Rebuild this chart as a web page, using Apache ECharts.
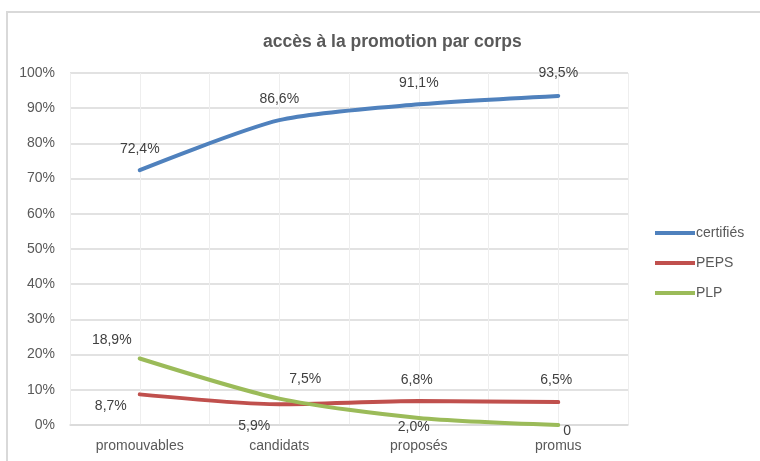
<!DOCTYPE html>
<html>
<head>
<meta charset="utf-8">
<script src="https://cdn.jsdelivr.net/npm/echarts@6/dist/echarts.min.js"></script>
<style>
  html, body { margin: 0; padding: 0; background: #fff; }
  #frame {
    position: absolute; left: 6px; top: 11px; right: -4px; bottom: -4px;
    border: 2px solid #d9d9d9;
  }
  #chart { width: 760px; height: 461px; position: absolute; left: 0; top: 0; }
</style>
</head>
<body>
<div id="frame"></div>
<div id="chart"></div>
<script>
// Categories and values (percent)
const categories = ['promouvables', 'candidats', 'proposés', 'promus'];
const certifies = [72.4, 86.6, 91.1, 93.5];
const peps = [8.7, 5.9, 6.8, 6.5];
const plp = [18.9, 7.5, 2.0, 0];

const yTicks = [0, 10, 20, 30, 40, 50, 60, 70, 80, 90, 100];

// Label placement per point: [position, distance, offsetX, offsetY]
const certLabels = [['top', 14, 0, 0], ['top', 14, 0, 0], ['top', 14, 0, 0], ['top', 16, 0, 0]];
const pepsLabels = [['left', 13, 0, 12], ['bottom', 15, -25, 0], ['top', 14, -2, 0], ['top', 15, -2, 0]];
const plpLabels = [['top', 11, -28, 0], ['top', 12, 26, 0], ['bottom', 2, -5, 0], ['bottom', 0, 9, -1]];

const fmt = v => (v === 0 ? '0' : v.toFixed(1).replace('.', ',') + '%');

function build(values, places) {
  return values.map((v, i) => ({
    value: v,
    label: {
      position: places[i][0],
      distance: places[i][1],
      offset: [places[i][2], places[i][3]]
    }
  }));
}

const chart = echarts.init(document.getElementById('chart'), null, { renderer: 'canvas' });

const labelStyle = {
  show: true,
  color: '#404040',
  fontSize: 14,
  fontFamily: 'Liberation Sans',
  formatter: p => fmt(p.value)
};

const lineSeries = (name, values, places, color) => ({
  name: name,
  type: 'line',
  data: build(values, places),
  smooth: 0.25,
  symbol: 'circle',
  symbolSize: 0,
  showSymbol: true,
  lineStyle: { color: color, width: 4, cap: 'round' },
  itemStyle: { color: color },
  label: labelStyle
});

chart.setOption({
  animation: false,
  textStyle: { fontFamily: 'Liberation Sans' },
  title: {
    text: 'accès à la promotion par corps',
    left: 258,
    top: 28,
    textStyle: { fontSize: 17.5, fontWeight: 'bold', color: '#595959', fontFamily: 'Liberation Sans' }
  },
  legend: {
    orient: 'vertical',
    left: 650,
    top: 221,
    itemWidth: 40,
    itemHeight: 4,
    itemGap: 16,
    icon: 'rect',
    textStyle: { fontSize: 14, color: '#595959', padding: [0, 0, 0, -4] },
    data: ['certifiés', 'PEPS', 'PLP']
  },
  grid: { left: 70, right: 132, top: 73, bottom: 36 },
  xAxis: [
    {
      type: 'category',
      data: categories,
      boundaryGap: true,
      axisLine: { lineStyle: { color: '#d9d9d9', width: 1.5 } },
      axisTick: { show: false },
      splitLine: { show: false },
      axisLabel: { color: '#595959', fontSize: 14, margin: 14 }
    },
    {
      type: 'category',
      data: ['', '', '', '', '', '', '', ''],
      boundaryGap: true,
      position: 'bottom',
      axisLine: { show: false },
      axisTick: { show: false },
      axisLabel: { show: false },
      splitLine: { show: true, lineStyle: { color: '#eeeeee', width: 1 } }
    }
  ],
  yAxis: {
    type: 'value',
    min: yTicks[0],
    max: yTicks[yTicks.length - 1],
    interval: 10,
    axisLine: { show: false },
    axisTick: { show: false },
    axisLabel: { color: '#595959', fontSize: 14, margin: 15, formatter: v => v + '%' },
    splitLine: { lineStyle: { color: '#d9d9d9', width: 1.5 } }
  },
  series: [
    lineSeries('certifiés', certifies, certLabels, '#4f81bd'),
    lineSeries('PEPS', peps, pepsLabels, '#c0504d'),
    lineSeries('PLP', plp, plpLabels, '#9bbb59')
  ]
});
</script>
</body>
</html>
